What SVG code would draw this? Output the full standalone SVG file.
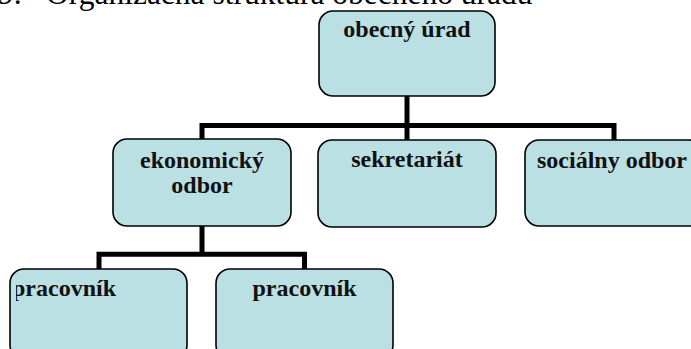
<svg xmlns="http://www.w3.org/2000/svg" width="691" height="349" viewBox="0 0 691 349">
<style>
.box{fill:#BBE0E3;stroke:#000;stroke-width:1.6}
.lbl{font-family:"Liberation Serif","Times New Roman",serif;font-weight:bold;font-size:24px;fill:#111;text-anchor:middle}
.title{font-family:"Liberation Serif","Times New Roman",serif;font-size:31.5px;fill:#000}
.conn{fill:none;stroke:#000;stroke-width:5;stroke-linejoin:miter;stroke-linecap:butt}
</style>
<defs>
<clipPath id="clipP1"><rect x="16" y="269" width="170" height="90"/></clipPath>
</defs>
<rect width="691" height="349" fill="#fff"/>
<text class="title" x="-2" y="3.5">9. <tspan x="46">Organizačná štruktúra obecného úradu</tspan></text>
<g id="connectors">
<path class="conn" d="M407,96 V140"/>
<path class="conn" d="M202,139 V125.5 H614 V140"/>
<path class="conn" d="M202,226 V254.3 M99,269 V254.3 H304.5 V269"/>
</g>
<g id="n-obecny">
<rect class="box" x="319" y="11" width="176" height="85" rx="14"/>
<text class="lbl" x="407" y="37">obecný úrad</text>
</g>
<g id="n-ekonomicky">
<rect class="box" x="113" y="139" width="178" height="87" rx="14"/>
<text class="lbl" x="202" y="168">ekonomický</text>
<text class="lbl" x="202" y="193">odbor</text>
</g>
<g id="n-sekretariat">
<rect class="box" x="318" y="140" width="178" height="87" rx="14"/>
<text class="lbl" x="407" y="167">sekretariát</text>
</g>
<g id="n-socialny">
<rect class="box" x="525" y="140" width="178" height="86" rx="14"/>
<text class="lbl" x="612" y="168">sociálny odbor</text>
</g>
<g id="n-pracovnik1">
<rect class="box" x="10" y="269" width="177" height="90" rx="14"/>
<text class="lbl" x="12" y="296" style="text-anchor:start" clip-path="url(#clipP1)">pracovník</text>
</g>
<g id="n-pracovnik2">
<rect class="box" x="216" y="269" width="177" height="90" rx="14"/>
<text class="lbl" x="304.5" y="296">pracovník</text>
</g>
</svg>
